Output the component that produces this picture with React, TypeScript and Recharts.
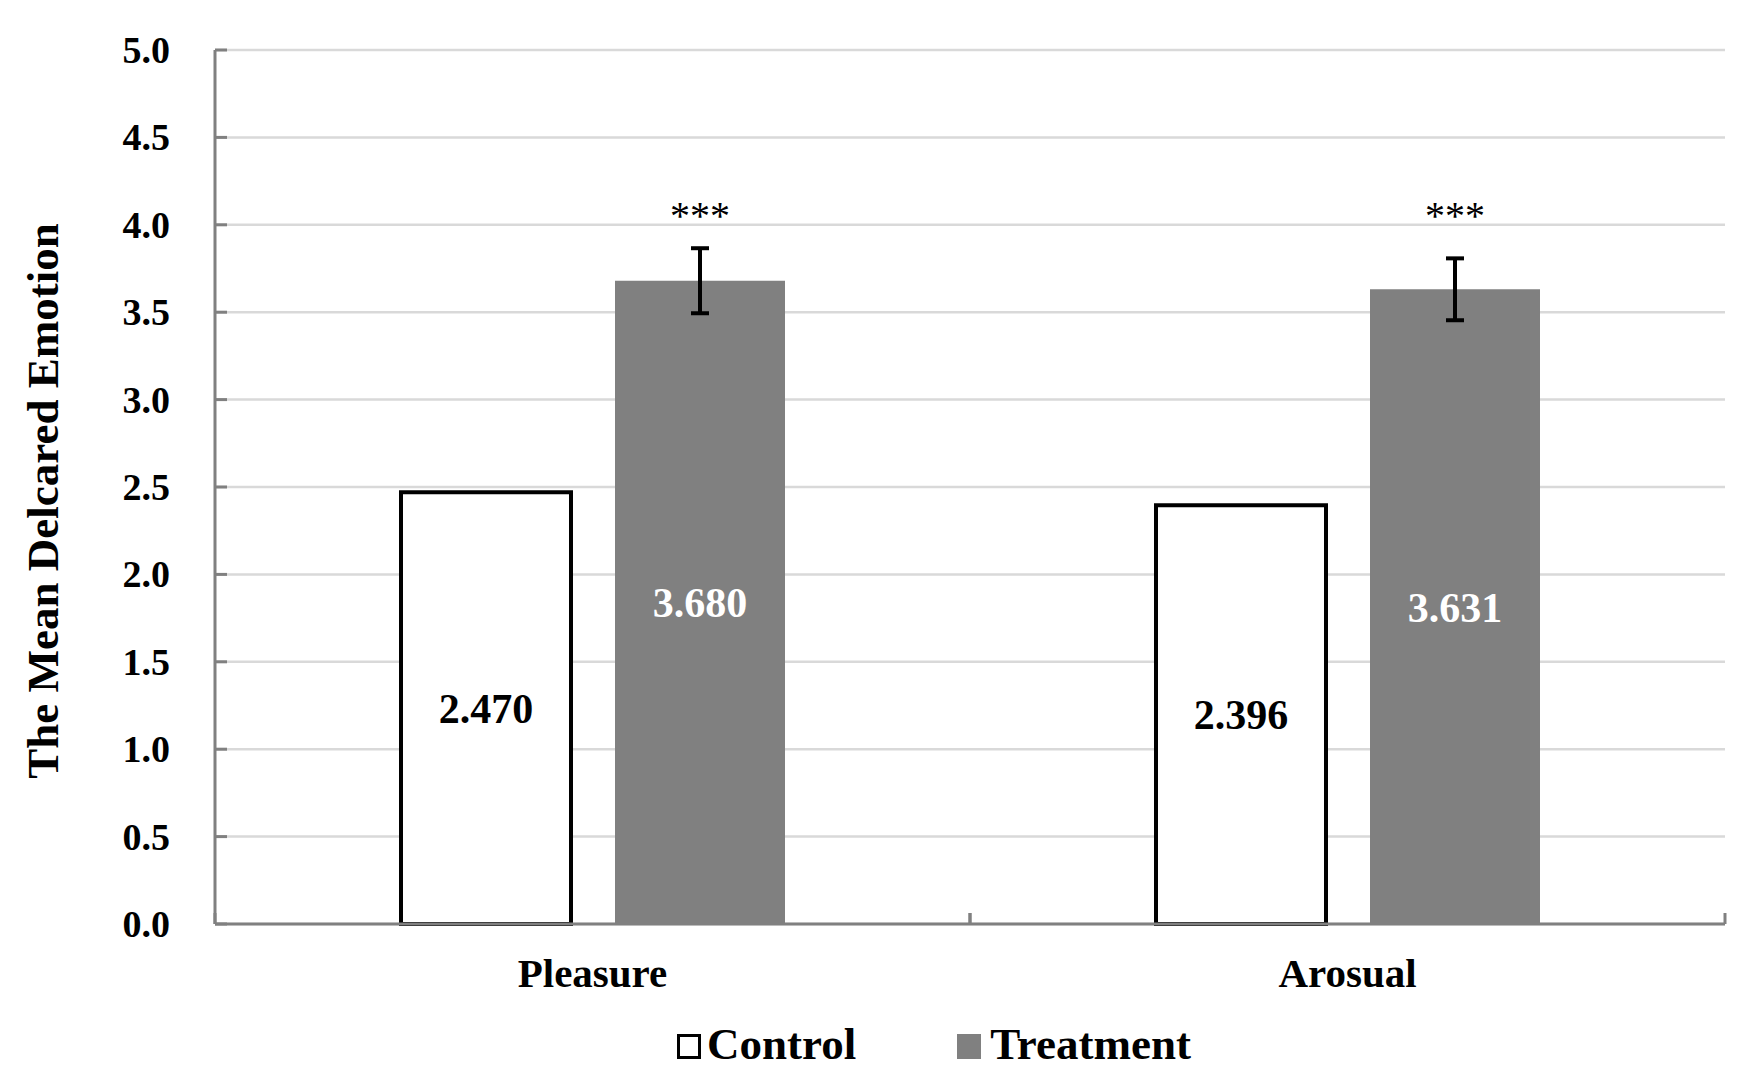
import { BarChart, Bar, XAxis, YAxis, CartesianGrid, Legend, LabelList, ErrorBar } from "recharts";

const categories = ["Pleasure", "Arosual"];
const controlMeans = [2.47, 2.396];
const treatmentMeans = [3.68, 3.631];
const treatmentErrors = [0.186, 0.177];
const significance = ["***", "***"];
const yTicks = [0, 0.5, 1, 1.5, 2, 2.5, 3, 3.5, 4, 4.5, 5];

const data = categories.map((name, i) => ({
  name,
  control: controlMeans[i],
  treatment: treatmentMeans[i],
  treatmentErr: treatmentErrors[i],
  sig: significance[i],
}));

const FONT = "'Liberation Serif', 'Times New Roman', serif";
const AXIS = "#808080";
const GRID = "#d9d9d9";
const TREAT = "#808080";

function YTick(props: any) {
  const { x, y, payload } = props;
  return (
    <g>
      <line x1={x + 45} x2={x + 57} y1={y} y2={y} stroke={AXIS} strokeWidth={3} />
      <text x={x} y={y} dy="0.34em" textAnchor="end" fontFamily={FONT} fontWeight="bold" fontSize={38} fill="#000">
        {Number(payload.value).toFixed(1)}
      </text>
    </g>
  );
}

function XTick(props: any) {
  const { x, y, payload, width, visibleTicksCount } = props;
  const band = width && visibleTicksCount ? width / visibleTicksCount : (payload.offset || 0) * 2;
  return (
    <g>
      <line x1={x - band / 2} x2={x - band / 2} y1={y} y2={y - 11} stroke={AXIS} strokeWidth={3} />
      <line x1={x + band / 2} x2={x + band / 2} y1={y} y2={y - 11} stroke={AXIS} strokeWidth={3} />
      <text x={x} y={y + 63} textAnchor="middle" fontFamily={FONT} fontWeight="bold" fontSize={41} fill="#000">
        {payload.value}
      </text>
    </g>
  );
}

function YTitle(props: any) {
  const vb = props.viewBox || { x: 0, y: 0, width: 0, height: 0 };
  const cx = vb.x + 58;
  const cy = vb.y + vb.height / 2 + 14;
  return (
    <text
      x={cx}
      y={cy}
      transform={`rotate(-90, ${cx}, ${cy})`}
      textAnchor="middle"
      fontFamily={FONT}
      fontWeight="bold"
      fontSize={45}
      fill="#000"
    >
      The Mean Delcared Emotion
    </text>
  );
}

function SigLabel(props: any) {
  const vb = props.viewBox || props;
  const i = props.index ?? 0;
  const bottom = vb.y + vb.height;
  const perUnit = vb.height / treatmentMeans[i];
  const yAt4 = bottom - 4 * perUnit;
  return (
    <text x={vb.x + vb.width / 2} y={yAt4 + 4} textAnchor="middle" fontFamily={FONT} fontSize={40} fill="#000">
      {props.value}
    </text>
  );
}

function LegendContent(props: any) {
  const items = props.payload || [];
  return (
    <div style={{ fontFamily: FONT, fontWeight: "bold", fontSize: 45, lineHeight: "50px", whiteSpace: "nowrap", color: "#000" }}>
      {items.map((entry: any, i: number) => (
        <span key={entry.value} style={{ marginRight: i === 0 ? 101 : 0 }}>
          <span
            style={{
              display: "inline-block",
              width: 24,
              height: 25,
              boxSizing: "border-box",
              border: i === 0 ? "3px solid #000" : "none",
              background: i === 0 ? "#fff" : TREAT,
              marginRight: i === 0 ? 6 : 9,
            }}
          />
          {entry.value}
        </span>
      ))}
    </div>
  );
}

export default function App() {
  return (
    <div style={{ position: "absolute", left: 0, top: 0, width: 1760, height: 1080, background: "#fff" }}>
      <BarChart
        width={1760}
        height={1080}
        data={data}
        margin={{ top: 50, right: 35, bottom: 26, left: 0 }}
        barGap={44}
        barSize={170}
      >
        <CartesianGrid vertical={false} stroke={GRID} strokeWidth={2.5} />
        <XAxis
          dataKey="name"
          height={80}
          interval={0}
          tickLine={false}
          tickSize={0}
          tickMargin={0}
          axisLine={{ stroke: AXIS, strokeWidth: 3 }}
          tick={(p: any) => <XTick {...p} />}
        />
        <YAxis
          width={215}
          domain={[0, 5]}
          ticks={yTicks}
          interval={0}
          tickLine={false}
          tickSize={0}
          tickMargin={45}
          axisLine={{ stroke: AXIS, strokeWidth: 3 }}
          tick={(p: any) => <YTick {...p} />}
          label={(p: any) => <YTitle {...p} />}
        />
        <Legend
          verticalAlign="bottom"
          wrapperStyle={{ left: 677, top: 1019, width: 560, height: 50 }}
          content={(p: any) => <LegendContent {...p} />}
        />
        <Bar dataKey="control" name="Control" fill="#fff" stroke="#000" strokeWidth={4} isAnimationActive={false}>
          <LabelList
            dataKey="control"
            position="center"
            formatter={(v: any) => Number(v).toFixed(3)}
            fill="#000"
            fontSize={42}
            fontWeight="bold"
            fontFamily={FONT}
          />
        </Bar>
        <Bar dataKey="treatment" name="Treatment" fill={TREAT} isAnimationActive={false}>
          <ErrorBar dataKey="treatmentErr" width={9} strokeWidth={4} stroke="#000" direction="y" />
          <LabelList
            dataKey="treatment"
            position="center"
            formatter={(v: any) => Number(v).toFixed(3)}
            fill="#fff"
            fontSize={42}
            fontWeight="bold"
            fontFamily={FONT}
          />
          <LabelList dataKey="sig" content={(p: any) => <SigLabel {...p} />} />
        </Bar>
      </BarChart>
    </div>
  );
}
